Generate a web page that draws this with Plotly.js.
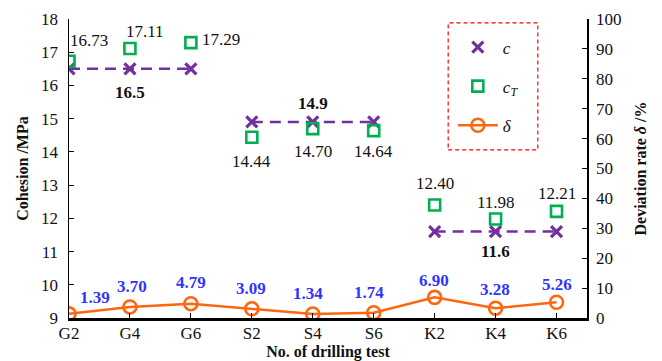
<!DOCTYPE html>
<html>
<head>
<meta charset="utf-8">
<script src="https://cdn.plot.ly/plotly-3.0.1.min.js"></script>
<style>html,body{margin:0;padding:0;background:#fff;}#chart{width:662px;height:361px;}</style>
</head>
<body>
<div id="chart"></div>
<script>
// ---- data ----
const tests = ["G2","G4","G6","S2","S4","S6","K2","K4","K6"];
const cValues = [16.5,16.5,16.5,14.9,14.9,14.9,11.6,11.6,11.6];
const cTValues = [16.73,17.11,17.29,14.44,14.70,14.64,12.40,11.98,12.21];
const deltaValues = [1.39,3.70,4.79,3.09,1.34,1.74,6.90,3.28,5.26];
const groupLabels = ["16.5","14.9","11.6"];
const groupLabelIndex = [1,4,7];

// ---- label offsets (pixels) ----
const cTOffX = [20,15,9,0,0,0,0,0,0];
const cTOffY = [21,17,3,-24,-23,-21,22,17,18];
const cTAnchor = ["center","center","left","center","center","center","center","center","center"];
const cOffY = [-24,18,-20];
const dOffX = [26,2,0,-1,-5,-5,-1,-1,0];
const dOffY = [16,20,21,20,20,20,17,19,18];

const idx = tests.map((_, i) => i);
const FONT = "Liberation Serif";
const PURPLE = "#7030A0", GREEN = "#00B050", ORANGE = "#FF6610", BLUE = "#3333FF";

// dashed c lines, broken between groups
const lineX = [], lineY = [];
idx.forEach(i => {
  if (i > 0 && i % 3 === 0) { lineX.push(null); lineY.push(null); }
  lineX.push(i); lineY.push(cValues[i]);
});

const traces = [
  {x: lineX, y: lineY, mode: "lines", line: {color: PURPLE, width: 2.5, dash: "11px,7px"},
   showlegend: false, hoverinfo: "skip", connectgaps: false, legendgroup: "z"},
  {x: idx, y: cValues, mode: "markers", name: "<i>c</i>", legendgroup: "a",
   marker: {symbol: "x-thin", size: 11, line: {color: PURPLE, width: 3.2}, color: PURPLE}},
  {x: idx, y: cTValues, mode: "markers", name: "<i>c</i><sub><i>T</i></sub>", legendgroup: "b",
   marker: {symbol: "square-open", size: 11, color: GREEN, line: {color: GREEN, width: 2.6}}},
  {x: idx, y: deltaValues, yaxis: "y2", mode: "lines+markers", name: "<i>δ</i>", legendgroup: "d",
   line: {color: ORANGE, width: 2.5},
   marker: {symbol: "circle-open", size: 13, color: ORANGE, line: {color: ORANGE, width: 2.6}}}
];

const annotations = [];
idx.forEach(i => {
  annotations.push({x: i, y: cTValues[i], xref: "x", yref: "y", text: cTValues[i].toFixed(2),
    showarrow: false, xshift: cTOffX[i], yshift: cTOffY[i], xanchor: cTAnchor[i], yanchor: "middle",
    font: {family: FONT, size: 17, color: "#111"}});
  annotations.push({x: i, y: deltaValues[i], xref: "x", yref: "y2", text: "<b>" + deltaValues[i].toFixed(2) + "</b>",
    showarrow: false, xshift: dOffX[i], yshift: dOffY[i], yanchor: "middle",
    font: {family: FONT, size: 17, color: BLUE}});
});
groupLabels.forEach((t, g) => {
  const i = groupLabelIndex[g];
  annotations.push({x: i, y: cValues[i], xref: "x", yref: "y", text: "<b>" + t + "</b>",
    showarrow: false, yshift: cOffY[g], yanchor: "middle",
    font: {family: FONT, size: 17, color: "#111"}});
});

const layout = {
  width: 662, height: 361,
  margin: {l: 69, r: 75, t: 19, b: 43},
  paper_bgcolor: "#fff", plot_bgcolor: "#fff",
  font: {family: FONT, size: 17, color: "#111"},
  showlegend: true,
  legend: {x: 0.741, xanchor: "left", y: 0.965, yanchor: "top", bgcolor: "rgba(0,0,0,0)",
    borderwidth: 0, font: {family: FONT, size: 17, color: "#111"},
    itemwidth: 40, tracegroupgap: 14, traceorder: "grouped"},
  xaxis: {range: [0, 8.5], tickvals: idx, ticktext: tests, showgrid: false, zeroline: false,
    showline: true, linecolor: "#000", linewidth: 2.5, ticks: "inside", ticklen: 5, tickwidth: 1,
    tickcolor: "#000", ticklabelstandoff: -2, tickfont: {family: FONT, size: 17},
    title: {text: "<b>No. of drilling test</b>", font: {family: FONT, size: 16}, standoff: 6}},
  yaxis: {range: [9, 18], dtick: 1, tick0: 9, showgrid: false, zeroline: false,
    showline: true, linecolor: "#000", linewidth: 1.5, ticks: "inside", ticklen: 5, tickwidth: 1,
    tickcolor: "#000", ticklabelstandoff: 6, tickfont: {family: FONT, size: 17},
    title: {text: "<b>Cohesion /MPa</b>", font: {family: FONT, size: 16}, standoff: 8}},
  yaxis2: {range: [0, 100], dtick: 10, overlaying: "y", side: "right", showgrid: false, zeroline: false,
    showline: true, linecolor: "#000", linewidth: 1.5, ticks: "inside", ticklen: 5, tickwidth: 1,
    tickcolor: "#000", ticklabelstandoff: 4, tickfont: {family: FONT, size: 17},
    title: {text: "<b>Deviation rate <i>δ</i> /%</b>", font: {family: FONT, size: 16}, standoff: 14}},
  shapes: [{type: "rect", xref: "paper", yref: "paper", x0: 0.732, x1: 0.905, y0: 0.562, y1: 0.987,
    line: {color: "#FF0000", width: 1.2, dash: "4px,3px"}, fillcolor: "rgba(0,0,0,0)"}],
  annotations: annotations
};

Plotly.newPlot("chart", traces, layout, {displayModeBar: false, staticPlot: true});
</script>
</body>
</html>
